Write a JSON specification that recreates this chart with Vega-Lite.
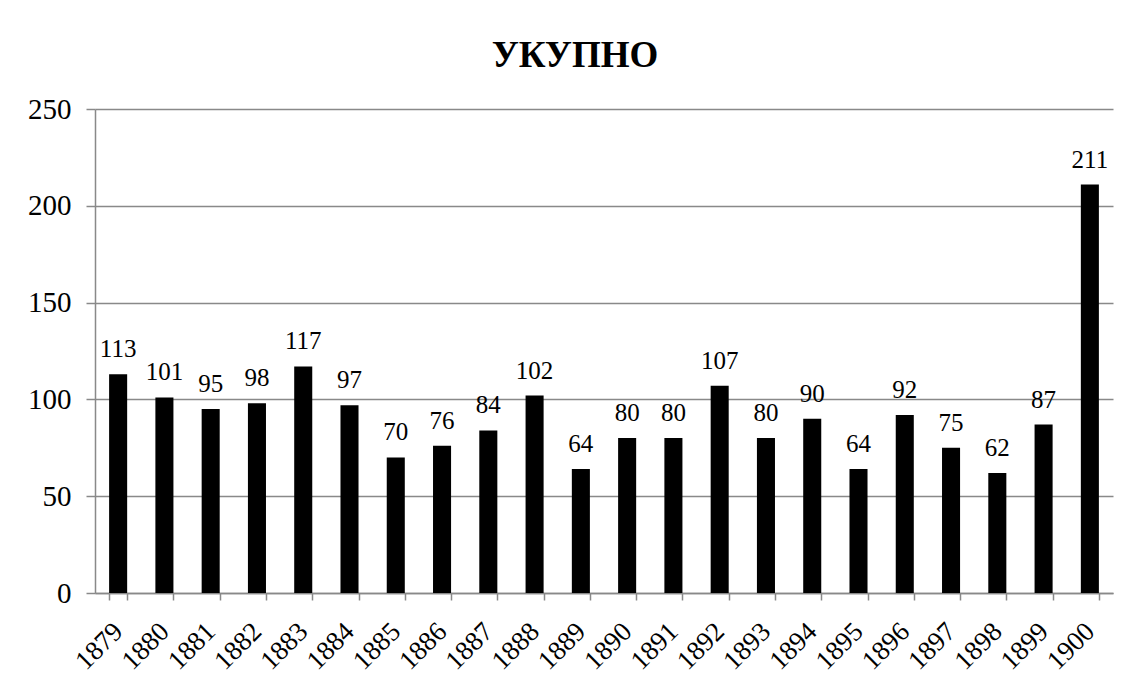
{
  "$schema": "https://vega.github.io/schema/vega-lite/v6.json",
  "autosize": "none",
  "width": 1018,
  "height": 484,
  "padding": {"left": 95, "top": 109, "right": 17, "bottom": 93},
  "background": "white",
  "title": {
    "text": "УКУПНО",
    "font": "Liberation Serif",
    "fontSize": 37,
    "fontWeight": "bold",
    "color": "black",
    "baseline": "alphabetic",
    "offset": -9,
    "dx": -29,
    "anchor": "middle"
  },
  "data": {
    "values": [
      {"year": "1879", "value": 113},
      {"year": "1880", "value": 101},
      {"year": "1881", "value": 95},
      {"year": "1882", "value": 98},
      {"year": "1883", "value": 117},
      {"year": "1884", "value": 97},
      {"year": "1885", "value": 70},
      {"year": "1886", "value": 76},
      {"year": "1887", "value": 84},
      {"year": "1888", "value": 102},
      {"year": "1889", "value": 64},
      {"year": "1890", "value": 80},
      {"year": "1891", "value": 80},
      {"year": "1892", "value": 107},
      {"year": "1893", "value": 80},
      {"year": "1894", "value": 90},
      {"year": "1895", "value": 64},
      {"year": "1896", "value": 92},
      {"year": "1897", "value": 75},
      {"year": "1898", "value": 62},
      {"year": "1899", "value": 87},
      {"year": "1900", "value": 211}
    ]
  },
  "encoding": {
    "x": {
      "field": "year",
      "type": "nominal",
      "sort": null,
      "scale": {"paddingInner": 0.61, "paddingOuter": 0.305},
      "axis": {
        "title": null,
        "labelAngle": -45,
        "labelAlign": "right",
        "labelBaseline": "middle",
        "labelFont": "Liberation Serif",
        "labelFontSize": 27,
        "labelColor": "black",
        "labelPadding": 27,
        "tickBand": "extent",
        "tickSize": 7,
        "tickColor": "#898989",
        "domainColor": "#898989",
        "domainWidth": 1.5,
        "tickWidth": 1.5,
        "grid": false
      }
    },
    "y": {
      "field": "value",
      "type": "quantitative",
      "scale": {"domain": [0, 250], "nice": false},
      "axis": {
        "title": null,
        "values": [0, 50, 100, 150, 200, 250],
        "labelFont": "Liberation Serif",
        "labelFontSize": 29,
        "labelColor": "black",
        "labelPadding": 15,
        "tickSize": 9,
        "tickColor": "#898989",
        "tickWidth": 1.5,
        "domainColor": "#898989",
        "domainWidth": 1.5,
        "gridColor": "#898989",
        "gridWidth": 1.5,
        "gridOpacity": 1
      }
    }
  },
  "layer": [
    {"mark": {"type": "bar", "color": "black"}},
    {
      "mark": {
        "type": "text",
        "font": "Liberation Serif",
        "fontSize": 25,
        "color": "black",
        "baseline": "alphabetic",
        "dy": -17
      },
      "encoding": {"text": {"field": "value", "type": "quantitative"}}
    }
  ],
  "config": {"view": {"stroke": null}, "font": "Liberation Serif"}
}
